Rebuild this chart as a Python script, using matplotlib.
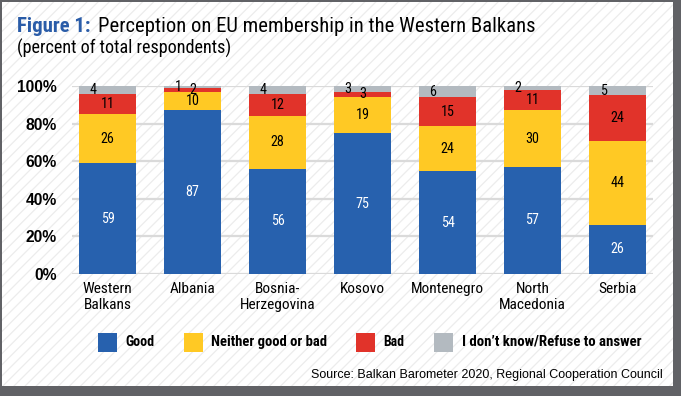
import matplotlib
matplotlib.use("Agg")
import matplotlib.pyplot as plt
from matplotlib.patches import Rectangle
from matplotlib import font_manager as fm
from matplotlib.font_manager import FontProperties
import numpy as np
import os

categories = ["Western\nBalkans", "Albania", "Bosnia-\nHerzegovina", "Kosovo",
              "Montenegro", "North\nMacedonia", "Serbia"]
series_names = ["Good", "Neither good or bad", "Bad", "I don\u2019t know/Refuse to answer"]
good = [59, 87, 56, 75, 54, 57, 26]
neither = [26, 10, 28, 19, 24, 30, 44]
bad = [11, 2, 12, 3, 15, 11, 24]
dont_know = [4, 1, 4, 3, 6, 2, 5]
colors = ["#2761ae", "#ffc924", "#e1332a", "#b3bac0"]
label_colors = ["white", "black", "black", "black"]
yticks = [0, 20, 40, 60, 80, 100]
ytick_labels = ["0%", "20%", "40%", "60%", "80%", "100%"]


def find_font(keys_regular, bold):
    files = [f.fname for f in fm.fontManager.ttflist]
    for key in keys_regular:
        for fn in files:
            base = os.path.basename(fn).lower().replace(" ", "")
            if key in base:
                isbold = "bold" in base
                isital = "italic" in base or "oblique" in base
                if isbold == bold and not isital:
                    return FontProperties(fname=fn)
    return FontProperties(family=["Liberation Sans", "DejaVu Sans"],
                          weight="bold" if bold else "normal")


keys = ["liberationsansnarrow", "robotocondensed", "opensanscondensed",
        "dejavusanscondensed", "narrow", "condensed"]
NARROW = find_font(keys, False)
NARROW_B = find_font(keys, True)
SANS = FontProperties(family=["Liberation Sans", "DejaVu Sans"])
SANS_B = FontProperties(family=["Liberation Sans", "DejaVu Sans"], weight="bold")

W, H = 681, 396
fig = plt.figure(figsize=(W / 100, H / 100), dpi=100)
fig.patch.set_facecolor("#616266")
plt.rcParams["hatch.linewidth"] = 0.9
card = Rectangle((2 / W, (H - 386) / H), (673 - 2) / W, (386 - 2) / H,
                 transform=fig.transFigure, facecolor="white",
                 edgecolor="#ececec", hatch="///", linewidth=0, zorder=-5)
fig.patches.append(card)
renderer = fig.canvas.get_renderer()


def fit(t, target):
    w = t.get_window_extent(renderer=renderer).width
    if w > 0:
        t.set_fontsize(t.get_fontsize() * target / w)
    return t.get_fontsize()


ax_l, ax_r, ax_t, ax_b = 72, 653, 86, 274
ax = fig.add_axes([ax_l / W, (H - ax_b) / H, (ax_r - ax_l) / W, (ax_b - ax_t) / H])
ax.set_facecolor("none")

# size probes
probe = fig.text(0, 0, "59", fontproperties=NARROW, fontsize=11)
val_fs = min(fit(probe, 14), 11.5)
probe.remove()

data = np.array([good, neither, bad, dont_know], dtype=float)
totals = data.sum(axis=0)
norm = data / totals * 100
x = np.arange(len(categories))
bottom = np.zeros(len(categories))
for k in range(4):
    ax.bar(x, norm[k], 0.67, bottom=bottom, color=colors[k], zorder=3, linewidth=0)
    for i in range(len(categories)):
        xi = x[i] - 0.17 if k == 3 else x[i]
        ax.text(xi, bottom[i] + norm[k][i] / 2, f"{int(data[k][i])}", ha="center",
                va="center", color=label_colors[k], fontproperties=NARROW,
                fontsize=val_fs, zorder=4)
    bottom += norm[k]

ax.set_xlim(-0.418, 6.418)
ax.set_ylim(0, 100)

probe = fig.text(0, 0, "100%", fontproperties=SANS_B, fontsize=11)
y_fs = min(fit(probe, 40), 11.5)
probe.remove()
probe = fig.text(0, 0, "Montenegro", fontproperties=NARROW, fontsize=11)
x_fs = min(fit(probe, 73), 12)
probe.remove()

ax.set_yticks(yticks)
ax.set_yticklabels(ytick_labels, fontproperties=SANS_B, fontsize=y_fs)
ax.set_xticks(x)
ax.set_xticklabels(categories, fontproperties=NARROW, fontsize=x_fs, linespacing=1.15)
ax.tick_params(axis="y", length=0, pad=11)
ax.tick_params(axis="x", length=0, pad=6)
ax.grid(axis="y", color="#dadada", linewidth=1.6, zorder=0)
for s in ax.spines.values():
    s.set_visible(False)

# Title
t1 = fig.text(17 / W, (H - 32) / H, "Figure 1:", fontproperties=NARROW_B, fontsize=15.5,
              color="#2a5ca8", va="baseline", ha="left")
fit(t1, 74)
t2 = fig.text(98 / W, (H - 32) / H, "Perception on EU membership in the Western Balkans",
              fontproperties=NARROW, fontsize=15.5, color="black", va="baseline", ha="left")
fit(t2, 434)
t3 = fig.text(17 / W, (H - 54) / H, "(percent of total respondents)", fontproperties=NARROW,
              fontsize=12, color="black", va="baseline", ha="left")
fit(t3, 215)

# Legend
sq_x = [98, 184, 356, 434]
txt_x = [125, 211, 383, 462]
txt_w = [29, 116, 21, 181]
for k in range(4):
    fig.patches.append(Rectangle((sq_x[k] / W, (H - 352) / H), 19 / W, 19 / H,
                                 transform=fig.transFigure, facecolor=colors[k],
                                 edgecolor="none", zorder=2))
    t = fig.text(txt_x[k] / W, (H - 342) / H, series_names[k], fontproperties=NARROW_B,
                 fontsize=11.5, va="center", ha="left")
    fit(t, txt_w[k])

ts = fig.text(663 / W, (H - 375) / H,
              "Source: Balkan Barometer 2020, Regional Cooperation Council",
              fontproperties=SANS, fontsize=9, va="center", ha="right")
fit(ts, 351)

fig.savefig("out.png", dpi=100, facecolor=fig.get_facecolor())
